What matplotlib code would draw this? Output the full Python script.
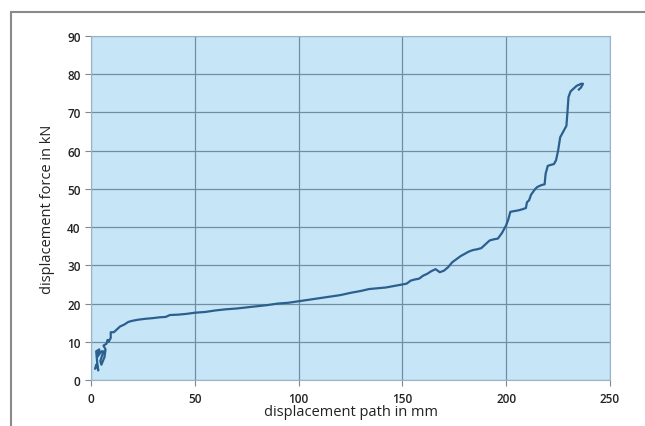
import matplotlib
matplotlib.use("Agg")
import matplotlib.pyplot as plt
from matplotlib.patches import Rectangle

# displacement path (mm) and displacement force (kN)
path_mm = [2, 2.5, 3, 3.5, 3, 2.5, 4, 3, 5, 6, 4.5, 5, 6.5, 7, 6, 7.5, 8, 8.5, 9.5, 9.5, 11, 12,
           14, 16, 18, 20, 23, 26, 30, 33, 36, 38, 42, 46, 50, 55, 60, 65, 70, 75, 80, 85, 90, 95,
           100, 105, 110, 115, 120, 125, 130, 134, 138, 142, 146, 150, 152, 154, 156, 158, 160,
           162, 164, 166, 168, 170, 172, 174, 176, 178, 180, 182, 184, 186, 188, 190, 192, 194,
           196, 198, 200, 201, 202, 204, 206, 208, 209.5, 210, 211, 212, 214, 215, 217, 218.5,
           219, 220, 221, 223, 224, 225, 226, 227, 228, 229, 229.5, 230, 231, 232, 233, 234,
           235, 236, 237, 236, 235]
force_kN = [3, 4, 3.5, 2.5, 4.5, 7.5, 8, 6, 7.5, 7.5, 5, 4, 6, 8, 9, 9.5, 10.5, 10, 11, 12.5, 12.5, 13,
            14, 14.5, 15.2, 15.5, 15.8, 16, 16.2, 16.4, 16.5, 17, 17.1, 17.3, 17.6, 17.8, 18.2, 18.5,
            18.7, 19, 19.3, 19.6, 20, 20.2, 20.6, 21, 21.4, 21.8, 22.2, 22.8, 23.3, 23.8, 24, 24.2,
            24.6, 25, 25.2, 26, 26.3, 26.5, 27.3, 27.8, 28.5, 29, 28.2, 28.6, 29.5, 30.8, 31.6,
            32.4, 33, 33.6, 34, 34.2, 34.5, 35.5, 36.5, 36.8, 37, 38.5, 40.5, 42, 44, 44.2, 44.4,
            44.7, 45, 46.5, 47, 48.5, 50, 50.5, 51, 51.2, 54, 56, 56.2, 56.5, 57.5, 60, 63.5, 64.5,
            65.5, 66.5, 70, 74, 75.5, 76, 76.5, 77, 77.2, 77.5, 77.5, 76.5, 76]

x_ticks = [0, 50, 100, 150, 200, 250]
y_ticks = [0, 10, 20, 30, 40, 50, 60, 70, 80, 90]

plt.rcParams['font.family'] = ['Open Sans', 'DejaVu Sans']

fig = plt.figure(figsize=(6.45, 4.27), dpi=100)
fig.patch.set_facecolor('white')

# outer frame
fig.patches.append(Rectangle((11/645, -0.2), 1.2, (427-13)/427 + 0.2,
                             transform=fig.transFigure, fill=False,
                             edgecolor='#8a8a8a', linewidth=1.5, zorder=0))

ax = fig.add_axes([91/645, (427-381)/427, (610-91)/645, (381-37)/427])
ax.set_facecolor('#c6e6f8')
ax.plot(path_mm, force_kN, color='#2b5f8e', linewidth=1.6, zorder=3)

ax.set_xlim(0, 250)
ax.set_ylim(0, 90)
ax.set_xticks(x_ticks)
ax.set_yticks(y_ticks)
ax.grid(True, color='#6f8fa6', linewidth=0.9)
ax.set_axisbelow(True)
for s in ax.spines.values():
    s.set_color('#9ab3c5')
    s.set_linewidth(0.8)
ax.tick_params(axis='both', length=4, color='#7a8a95', labelsize=8.5, labelcolor='#222222')
ax.tick_params(axis='x', pad=5)
for lab in ax.get_xticklabels() + ax.get_yticklabels():
    lab.set_fontweight('semibold')

ax.set_xlabel('displacement path in mm', fontsize=10.5, color='#222222', labelpad=-1)
ax.set_ylabel('displacement force in kN', fontsize=10.5, color='#222222', labelpad=9)

fig.savefig('out.png', dpi=100)
